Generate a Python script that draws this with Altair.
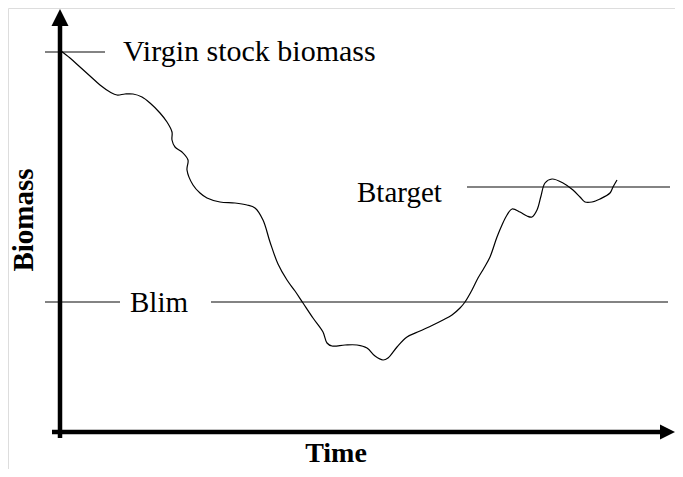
import altair as alt
import pandas as pd

# Biomass trajectory (time units from the y-axis, biomass units above the x-axis)
time = [0, 9, 19, 29, 39, 49, 56, 64, 72, 81, 89, 99, 106, 111, 111, 114, 121, 127, 126, 132,
        139, 146, 159, 174, 186, 194, 202, 209, 217, 226, 234, 242, 252, 262, 266, 271, 284, 296, 306, 314,
        322, 327, 336, 346, 359, 372, 382, 391, 399, 404, 411, 417, 423, 429, 436, 441, 446, 451, 459, 466,
        471, 476, 480, 484, 491, 502, 512, 519, 524, 531, 539, 549, 552, 556]
biomass = [381, 374, 365, 356, 347, 340, 337, 338, 338, 335, 329, 319, 310, 300, 292, 285, 280, 272, 262, 247,
           239, 234, 230, 229, 227, 224, 212, 190, 168, 152, 141, 129, 114, 100, 89, 86, 87, 87, 84, 76,
           72, 74, 85, 95, 101, 107, 112, 117, 124, 130, 142, 154, 164, 175, 195, 207, 217, 223, 220, 216,
           215, 222, 236, 249, 253, 249, 242, 235, 230, 230, 233, 239, 245, 252]

# Reference levels
ref_names = ["Virgin", "Blim left", "Blim right", "Btarget"]
ref_start = [-16, -16, 150, 406]
ref_end = [44, 59, 607, 609]
ref_level = [380, 130, 130, 245]

# Reference labels
label_text = ["Virgin stock biomass", "Blim", "Btarget"]
label_time = [62, 69, 296]
label_level = [371, 120, 230]
label_size = [30, 29, 29]

# Axis lines
axis_name = ["y", "x"]
axis_x1 = [-1, -9]
axis_x2 = [-1, 604]
axis_y1 = [-6, 0]
axis_y2 = [412, 0]

XD = [-53, 614]
YD = [-37, 424]
FONT = "Liberation Serif"

def X(field):
    return alt.X(field, type="quantitative", scale=alt.Scale(domain=XD, nice=False, zero=False), axis=None)

def Y(field):
    return alt.Y(field, type="quantitative", scale=alt.Scale(domain=YD, nice=False, zero=False), axis=None)

curve_df = pd.DataFrame({"time": time, "biomass": biomass, "order": range(len(time))})
ref_df = pd.DataFrame({"name": ref_names, "t1": ref_start, "t2": ref_end, "b": ref_level})
lab_df = pd.DataFrame({"text": label_text, "t": label_time, "b": label_level, "size": label_size})
axis_df = pd.DataFrame({"name": axis_name, "x1": axis_x1, "x2": axis_x2, "y1": axis_y1, "y2": axis_y2})
arrow_up = pd.DataFrame({"t": [-1], "b": [414.5]})
arrow_right = pd.DataFrame({"t": [606.5], "b": [0]})
ytitle = pd.DataFrame({"t": [-28], "b": [212], "text": ["Biomass"]})
xtitle = pd.DataFrame({"t": [275], "b": [-30], "text": ["Time"]})

refs = alt.Chart(ref_df).mark_rule(color="#5a5a5a", strokeWidth=1.5).encode(
    x=X("t1"), x2="t2", y=Y("b"))

curve = alt.Chart(curve_df).mark_line(color="black", strokeWidth=1.2, interpolate="catmull-rom").encode(
    x=X("time"), y=Y("biomass"), order="order")

labels = alt.Chart(lab_df).mark_text(font=FONT, align="left", baseline="alphabetic",
                                     color="black").encode(
    x=X("t"), y=Y("b"), text="text",
    size=alt.Size("size", type="quantitative", scale=None, legend=None))

axes = alt.Chart(axis_df).mark_rule(color="black", strokeWidth=4.5).encode(
    x=X("x1"), x2="x2", y=Y("y1"), y2="y2")

up = alt.Chart(arrow_up).mark_point(shape="M-1,1L0,-1L1,1Z", size=289, filled=True, color="black",
                                   opacity=1, strokeWidth=0).encode(x=X("t"), y=Y("b"))
right = alt.Chart(arrow_right).mark_point(shape="M-1,-1L1,0L-1,1Z", size=225, filled=True, color="black",
                                         opacity=1, strokeWidth=0).encode(x=X("t"), y=Y("b"))

yt = alt.Chart(ytitle).mark_text(font=FONT, fontSize=29, fontWeight="bold", angle=270, align="center",
                                 baseline="alphabetic", color="black").encode(x=X("t"), y=Y("b"), text="text")
xt = alt.Chart(xtitle).mark_text(font=FONT, fontSize=28, fontWeight="bold", align="center",
                                 baseline="alphabetic", color="black").encode(x=X("t"), y=Y("b"), text="text")

chart = alt.layer(refs, curve, labels, axes, up, right, yt, xt).properties(
    width=667, height=461, autosize=alt.AutoSizeParams(type="none"), padding=0
).configure_view(strokeWidth=0, stroke="transparent").configure(background="white")

chart.save("out.html", embed_options={"renderer": "svg", "actions": False})
